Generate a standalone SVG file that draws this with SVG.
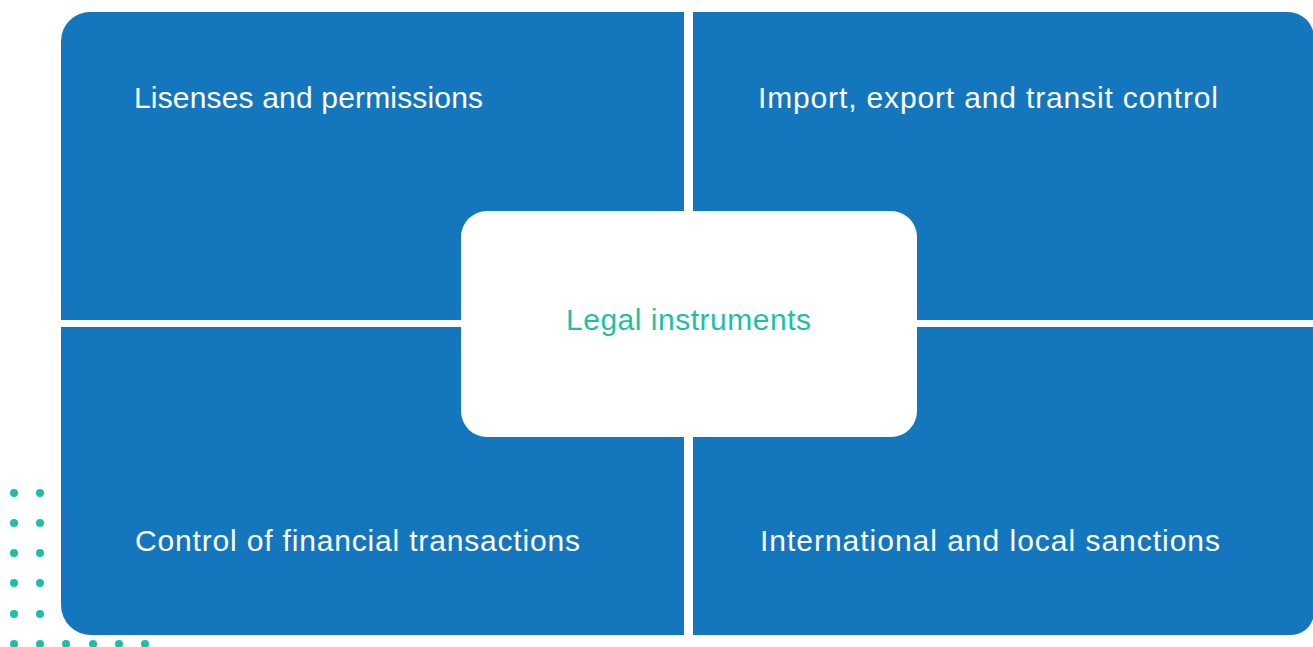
<svg xmlns="http://www.w3.org/2000/svg" width="1313" height="647" viewBox="0 0 1313 647">
  <style>
    .quad { fill: #1476bd; }
    .qlabel { font-family: "Liberation Sans", Arial, sans-serif; font-size: 30px; fill: #ffffff; }
    .core { fill: #ffffff; }
    .clabel { font-family: "Liberation Sans", Arial, sans-serif; font-size: 30px; fill: #1fbfa6; }
    .dot { fill: #1fbfa6; }
  </style>

  <!-- decorative dot grid, bottom left -->
  <g id="dots">
    <circle class="dot" cx="14" cy="493" r="4"/>
    <circle class="dot" cx="40" cy="493" r="4"/>
    <circle class="dot" cx="14" cy="523" r="4"/>
    <circle class="dot" cx="40" cy="523" r="4"/>
    <circle class="dot" cx="14" cy="553" r="4"/>
    <circle class="dot" cx="40" cy="553" r="4"/>
    <circle class="dot" cx="14" cy="583" r="4"/>
    <circle class="dot" cx="40" cy="583" r="4"/>
    <circle class="dot" cx="14" cy="614" r="4"/>
    <circle class="dot" cx="40" cy="614" r="4"/>
    <circle class="dot" cx="14" cy="644" r="4"/>
    <circle class="dot" cx="40" cy="644" r="4"/>
    <circle class="dot" cx="66" cy="644" r="4"/>
    <circle class="dot" cx="93" cy="644" r="4"/>
    <circle class="dot" cx="119" cy="644" r="4"/>
    <circle class="dot" cx="145" cy="644" r="4"/>
  </g>

  <!-- four quadrants -->
  <g id="licenses">
    <path class="quad" d="M61,41 A29,29 0 0 1 90,12 H684 V320 H61 Z"/>
    <text class="qlabel" x="134" y="108" textLength="349">Lisenses and permissions</text>
  </g>
  <g id="import-export">
    <path class="quad" d="M693,12 H1288 A26,26 0 0 1 1314,38 V320 H693 Z"/>
    <text class="qlabel" x="758" y="108" textLength="460">Import, export and transit control</text>
  </g>
  <g id="financial">
    <path class="quad" d="M61,327 H684 V635 H91 A30,30 0 0 1 61,605 Z"/>
    <text class="qlabel" x="135" y="551" textLength="445">Control of financial transactions</text>
  </g>
  <g id="sanctions">
    <path class="quad" d="M693,327 H1314 V612 A23,23 0 0 1 1291,635 H693 Z"/>
    <text class="qlabel" x="760" y="551" textLength="460">International and local sanctions</text>
  </g>

  <!-- connectors: none drawn; quadrants meet at the central block -->
  <g id="connectors"></g>

  <!-- central block -->
  <g id="legal-instruments">
    <rect class="core" x="461" y="211" width="456" height="226" rx="26" ry="26"/>
    <text class="clabel" x="566" y="330" textLength="245">Legal instruments</text>
  </g>
</svg>
